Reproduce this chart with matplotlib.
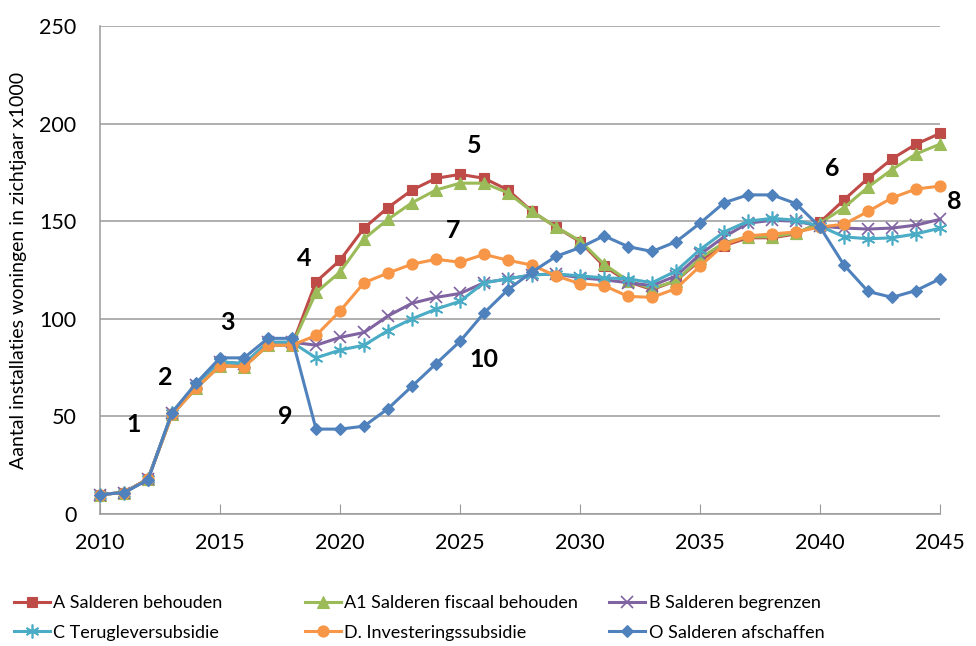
import matplotlib.pyplot as plt

plt.rcParams["font.family"] = ["Lato", "DejaVu Sans"]

years = list(range(2010, 2046))

a_behouden = [10, 11, 18, 51, 64.5, 76, 75.5, 86.5, 86.5, 119, 130, 146.5, 157, 166, 172, 174, 172, 166,
              155, 147, 139.5, 127, 119, 115, 119.5, 130, 137.5, 141.5, 141.5, 143.5, 149.5, 161, 172,
              182, 189.5, 195]
a1_fiscaal = [10, 11, 18, 51, 64.5, 76, 75.5, 86.5, 86.5, 113.5, 124, 141, 151, 159.5, 166, 169.5, 169.5,
              164.5, 155, 147, 140, 128, 119.5, 115.5, 119.5, 131, 139, 142, 142, 144, 149, 157, 167.5,
              176.5, 184.5, 189.5]
b_begrenzen = [10, 11, 18, 52, 66, 78, 77, 88, 88, 86.5, 90.5, 93, 101.5, 108, 111, 113, 118.5, 120.5,
               122.5, 123, 121, 120, 118.5, 117, 122, 133, 142, 149, 150.5, 150, 147.5, 146.5, 146,
               146.5, 148, 151]
c_teruglever = [10, 11, 18, 52, 66, 78, 77, 88, 88, 80, 84, 86.5, 94, 100, 105, 109, 118.5, 120.5, 122.5,
                123, 122, 121, 120.5, 118.5, 124.5, 135.5, 144.5, 150, 151.5, 150.5, 147.5, 142, 141,
                141.5, 143.5, 146.5]
d_investering = [10, 11, 18, 51, 64.5, 76, 75.5, 86.5, 86.5, 91.5, 104, 118.5, 123.5, 128, 130.5, 129, 133,
                 130, 127.5, 122, 118, 117, 111.5, 111, 115.5, 127, 138, 142.5, 143.5, 144.5, 147, 148.5,
                 155, 162, 166.5, 168]
o_afschaffen = [10, 11, 17.5, 52, 67, 80, 80, 90, 90, 43.5, 43.5, 45, 54, 65.5, 77, 88.5, 103, 115, 124,
                132, 136.5, 142.5, 137, 134.5, 139.5, 149, 159.5, 163.5, 163.5, 159, 147, 127.5, 114,
                111, 114.5, 120.5]

labels = ["A Salderen behouden", "A1 Salderen fiscaal behouden", "B Salderen begrenzen",
          "C Terugleversubsidie", "D. Investeringssubsidie", "O Salderen afschaffen"]

# annotation numbers and where they sit (year, value)
note_text = ["1", "2", "3", "4", "5", "6", "7", "8", "9", "10"]
note_x = [2011.4, 2012.7, 2015.3, 2018.5, 2025.6, 2040.5, 2024.7, 2045.6, 2017.7, 2026.0]
note_y = [46, 70, 98, 131, 189, 177, 145, 160, 50, 79]

fig = plt.figure(figsize=(9.76, 6.46), dpi=100)
ax = fig.add_axes([0.1025, 0.2043, 0.8607, 0.7554])

series = [
    (a_behouden, "#BE4B48", "s", 7),
    (a1_fiscaal, "#9BBB59", "^", 8),
    (b_begrenzen, "#8064A2", "x", 8),
    (c_teruglever, "#4BACC6", (6, 2, 0), 10),
    (d_investering, "#F79646", "o", 8),
    (o_afschaffen, "#4F81BD", "D", 6.5),
]

handles = []
for (vals, color, marker, ms), label in zip(series, labels):
    line, = ax.plot(years, vals, color=color, marker=marker, markersize=ms, linewidth=2.2,
                    markeredgewidth=1.2 if marker in ("x", (6, 2, 0)) else 0.8,
                    markeredgecolor=color, label=label, clip_on=False, zorder=3)
    handles.append(line)

for t, x, y in zip(note_text, note_x, note_y):
    ax.text(x, y, t, fontsize=18, fontweight="bold", ha="center", va="center", color="black")

ax.set_xlim(2010, 2045)
ax.set_ylim(0, 250)
ax.set_xticks(range(2010, 2046, 5))
ax.set_yticks(range(0, 251, 50))
ax.yaxis.grid(True, color="#9a9a9a", linewidth=1.1)
ax.set_axisbelow(True)
for side in ("top", "right"):
    ax.spines[side].set_visible(False)
for side in ("left", "bottom"):
    ax.spines[side].set_color("#9a9a9a")
    ax.spines[side].set_linewidth(1.1)
ax.tick_params(axis="x", direction="in", length=7, color="#9a9a9a", labelsize=15.5, pad=14)
ax.tick_params(axis="y", length=0, labelsize=15.5, pad=17)
ax.set_ylabel("Aantal installaties woningen in zichtjaar x1000", fontsize=14, labelpad=9)

# legend: three columns of two entries, placed like the original
col_x = [0.014, 0.312, 0.624]
for i, cx in enumerate(col_x):
    fig.legend([handles[i], handles[i + 3]], [labels[i], labels[i + 3]], loc="upper left",
               bbox_to_anchor=(cx, 0.079), frameon=False, fontsize=13, handlelength=2.0,
               handletextpad=0.2, labelspacing=0.75, borderaxespad=0, borderpad=0)

fig.savefig("out.png", dpi=100)
